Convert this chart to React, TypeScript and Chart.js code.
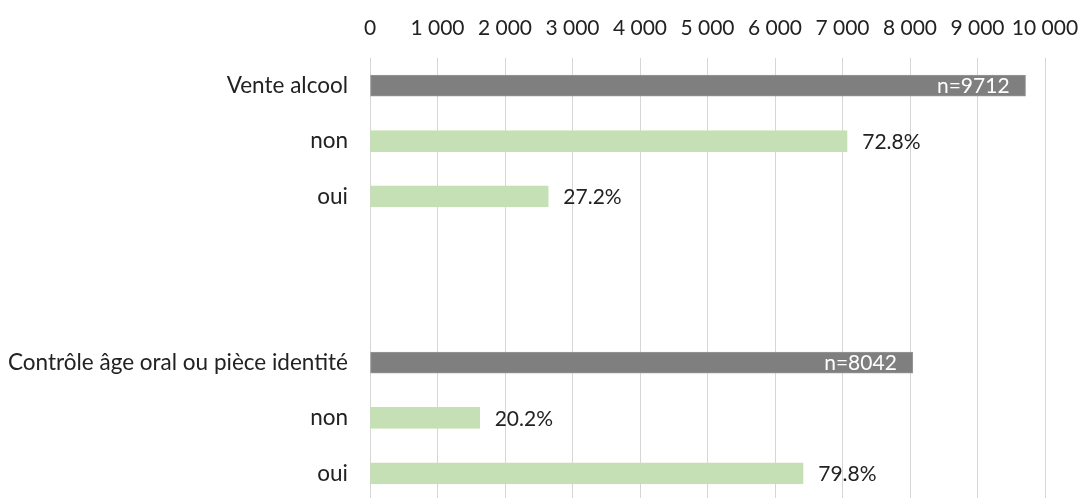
import React, { useEffect, useRef } from "react";
import { Chart, registerables } from "chart.js";

Chart.register(...registerables);

const categories = [
  "Vente alcool",
  "non",
  "oui",
  "",
  "",
  "Contrôle âge oral ou pièce identité",
  "non",
  "oui",
];
const values: (number | null)[] = [9712, 7070, 2642, null, null, 8042, 1625, 6418];
const valueLabels = ["n=9712", "72.8%", "27.2%", "", "", "n=8042", "20.2%", "79.8%"];
const isTotal = [true, false, false, false, false, true, false, false];
const xTickValues = [0, 1000, 2000, 3000, 4000, 5000, 6000, 7000, 8000, 9000, 10000];

const FONT = "Lato, 'Open Sans', sans-serif";
const TEXT = "#222222";
const DARK = "#7f7f7f";
const GREEN = "#c5e0b4";

const fmt = (v: number) => String(v).replace(/\B(?=(\d{3})+(?!\d))/g, " ");

const labelPlugin = {
  id: "valueLabels",
  afterDatasetsDraw(chart: any) {
    const ctx = chart.ctx;
    const meta = chart.getDatasetMeta(0);
    ctx.save();
    ctx.font = `21px ${FONT}`;
    ctx.textBaseline = "middle";
    meta.data.forEach((bar: any, i: number) => {
      const txt = valueLabels[i];
      if (!txt || values[i] == null) return;
      if (isTotal[i]) {
        ctx.fillStyle = "#ffffff";
        ctx.textAlign = "right";
        ctx.fillText(txt, bar.x - 16, bar.y + 1);
      } else {
        ctx.fillStyle = TEXT;
        ctx.textAlign = "left";
        ctx.fillText(txt, bar.x + 15, bar.y + 1);
      }
    });
    ctx.restore();
  },
};

export default function App() {
  const ref = useRef<HTMLCanvasElement | null>(null);
  useEffect(() => {
    if (!ref.current) return;
    const chart = new Chart(ref.current, {
      type: "bar",
      data: {
        labels: categories,
        datasets: [
          {
            data: values,
            backgroundColor: isTotal.map((t) => (t ? DARK : GREEN)),
            borderColor: isTotal.map((t) => (t ? "#999999" : GREEN)),
            borderWidth: 1,
            borderSkipped: false,
            barThickness: 21,
          },
        ],
      },
      options: {
        indexAxis: "y",
        animation: false,
        responsive: false,
        maintainAspectRatio: false,
        layout: { padding: { left: 0, right: 38, top: 0, bottom: 0 } },
        plugins: {
          legend: { display: false },
          tooltip: { enabled: false },
        },
        scales: {
          x: {
            position: "top",
            min: 0,
            max: 10000,
            afterBuildTicks: (scale: any) => {
              scale.ticks = xTickValues.map((v) => ({ value: v }));
            },
            afterFit: (scale: any) => {
              scale.height = 58;
              scale.paddingLeft = 0;
              scale.paddingRight = 0;
            },
            ticks: {
              callback: (v: any) => fmt(Number(v)),
              font: { family: FONT, size: 21 },
              color: TEXT,
              padding: 17,
              maxRotation: 0,
              autoSkip: false,
            },
            grid: { color: "#d6d6d6", lineWidth: 1, drawTicks: false },
            border: { display: false },
          },
          y: {
            afterFit: (scale: any) => {
              scale.width = 370;
              scale.paddingTop = 0;
              scale.paddingBottom = 0;
            },
            ticks: {
              font: { family: FONT, size: 22.5 },
              color: TEXT,
              padding: 22,
              autoSkip: false,
            },
            grid: { display: false, drawTicks: false },
            border: { display: false },
          },
        },
      },
      plugins: [labelPlugin],
    } as any);
    return () => chart.destroy();
  }, []);
  return (
    <div style={{ position: "fixed", left: 0, top: 0, width: 1083, height: 501, background: "#fff" }}>
      <canvas ref={ref} width={1083} height={501} style={{ width: 1083, height: 501 }} />
    </div>
  );
}
